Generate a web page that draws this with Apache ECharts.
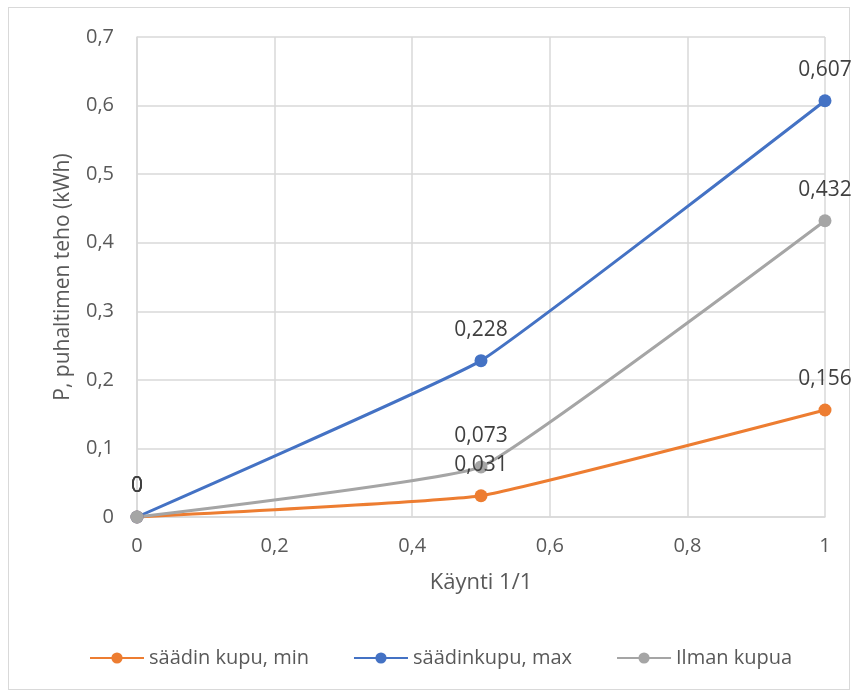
<!DOCTYPE html>
<html>
<head>
<meta charset="utf-8">
<script src="https://cdn.jsdelivr.net/npm/echarts@6/dist/echarts.min.js"></script>
<style>
html,body{margin:0;padding:0;background:#fff;}
#frame{position:absolute;left:8px;top:7px;width:842px;height:683px;border:1.5px solid #d9d9d9;box-sizing:border-box;}
#chart{position:absolute;left:0;top:0;width:853px;height:693px;}
</style>
</head>
<body>
<div id="frame"></div>
<div id="chart"></div>
<script>
const xValues = [0, 0.5, 1];
const seriesNames = ['säädin kupu, min', 'säädinkupu, max', 'Ilman kupua'];
const minValues = [0, 0.031, 0.156];
const maxValues = [0, 0.228, 0.607];
const ilmanValues = [0, 0.073, 0.432];
const colors = ['#ED7D31', '#4472C4', '#A5A5A5'];

const fmt = v => String(v).replace('.', ',');
const font = '"Open Sans", "Noto Sans", sans-serif';
const textColor = '#595959';

function mk(name, vals, color) {
  return {
    name: name,
    type: 'line',
    data: xValues.map((x, i) => [x, vals[i]]),
    smooth: 0.1,
    symbol: 'circle',
    symbolSize: 13,
    lineStyle: { width: 3, color: color },
    itemStyle: { color: color },
    label: {
      show: true, position: 'top', distance: 14,
      formatter: p => fmt(p.value[1]),
      color: '#404040', fontSize: 21, fontFamily: font
    }
  };
}

const chart = echarts.init(document.getElementById('chart'));
chart.setOption({
  animation: false,
  color: colors,
  grid: { left: 137, right: 28, top: 37, bottom: 176 },
  xAxis: {
    type: 'value', min: 0, max: 1, interval: 0.2,
    name: 'Käynti 1/1', nameLocation: 'middle', nameGap: 55,
    nameTextStyle: { color: textColor, fontSize: 22, fontFamily: font },
    axisLine: { show: true, lineStyle: { color: '#d9d9d9', width: 1.5 } },
    axisTick: { show: false },
    axisLabel: { formatter: fmt, color: textColor, fontSize: 20, fontFamily: font, margin: 19 },
    splitLine: { show: true, lineStyle: { color: '#d9d9d9', width: 1.5 } }
  },
  yAxis: {
    type: 'value', min: 0, max: 0.7, interval: 0.1,
    name: 'P, puhaltimen teho (kWh)', nameLocation: 'middle', nameGap: 63,
    nameTextStyle: { color: textColor, fontSize: 21, fontFamily: font },
    axisLine: { show: true, lineStyle: { color: '#d9d9d9', width: 1.5 } },
    axisTick: { show: false },
    axisLabel: { formatter: fmt, color: textColor, fontSize: 20, fontFamily: font, margin: 23 },
    splitLine: { show: true, lineStyle: { color: '#d9d9d9', width: 1.5 } }
  },
  legend: {
    bottom: 20, left: 84, itemWidth: 54, itemHeight: 14, itemGap: 44,
    textStyle: { color: textColor, fontSize: 20, fontFamily: font },
    data: seriesNames
  },
  series: [
    mk(seriesNames[0], minValues, colors[0]),
    mk(seriesNames[1], maxValues, colors[1]),
    mk(seriesNames[2], ilmanValues, colors[2])
  ]
});
</script>
</body>
</html>
